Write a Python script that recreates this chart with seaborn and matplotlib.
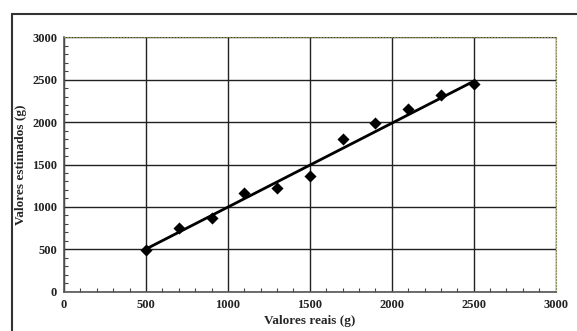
import matplotlib
matplotlib.use("Agg")
import matplotlib.pyplot as plt
import seaborn as sns
import pandas as pd
from matplotlib.patches import Rectangle
from matplotlib.ticker import MultipleLocator

valores_reais = [500, 700, 900, 1100, 1300, 1500, 1700, 1900, 2100, 2300, 2500]
valores_estimados = [490, 750, 870, 1170, 1225, 1370, 1795, 1985, 2150, 2315, 2445]
ajuste_x = [500, 2500]
ajuste_y = [505, 2480]
ticks = [0, 500, 1000, 1500, 2000, 2500, 3000]

df = pd.DataFrame({"x": valores_reais, "y": valores_estimados})
fit = pd.DataFrame({"x": ajuste_x, "y": ajuste_y})

sns.set_style("white")
plt.rcParams["font.family"] = ["Liberation Serif", "DejaVu Serif"]

fig = plt.figure(figsize=(5.77, 3.31), dpi=100)
ax = fig.add_axes([0.111, 0.118, 0.852, 0.770])

sns.lineplot(data=fit, x="x", y="y", ax=ax, color="black", lw=2, zorder=3)
sns.scatterplot(data=df, x="x", y="y", ax=ax, marker="D", s=38, color="black",
                linewidth=0, zorder=4)

ax.set_xlim(0, 3000)
ax.set_ylim(0, 3000)
ax.set_xticks(ticks)
ax.set_yticks(ticks)
ax.set_xticklabels([str(t) for t in ticks], fontweight="bold", fontsize=9)
ax.set_yticklabels([str(t) for t in ticks], fontweight="bold", fontsize=9)
ax.xaxis.set_minor_locator(MultipleLocator(100))
ax.yaxis.set_minor_locator(MultipleLocator(100))
ax.tick_params(which="major", length=0, pad=5, colors="#222222")
ax.tick_params(which="minor", direction="in", length=3, width=0.8, color="#444444",
               bottom=True, left=True)
ax.grid(True, which="major", color="#222222", lw=1)

for s in ["left", "bottom"]:
    ax.spines[s].set_color("#555555")
    ax.spines[s].set_linewidth(1.2)
for s in ["top", "right"]:
    ax.spines[s].set_color("#8a8a55")
    ax.spines[s].set_linewidth(0.8)
    ax.spines[s].set_linestyle(":")

ax.set_xlabel("Valores reais (g)", fontweight="bold", fontsize=9.5, labelpad=3)
ax.set_ylabel("Valores estimados (g)", fontweight="bold", fontsize=9.5, labelpad=4)

fig.patches.append(Rectangle((12 / 577, -0.05), 1.0, 1 - 14 / 331 + 0.05,
                             transform=fig.transFigure, fill=False,
                             edgecolor="#333333", lw=1.5))

fig.savefig("out.png", dpi=100)
